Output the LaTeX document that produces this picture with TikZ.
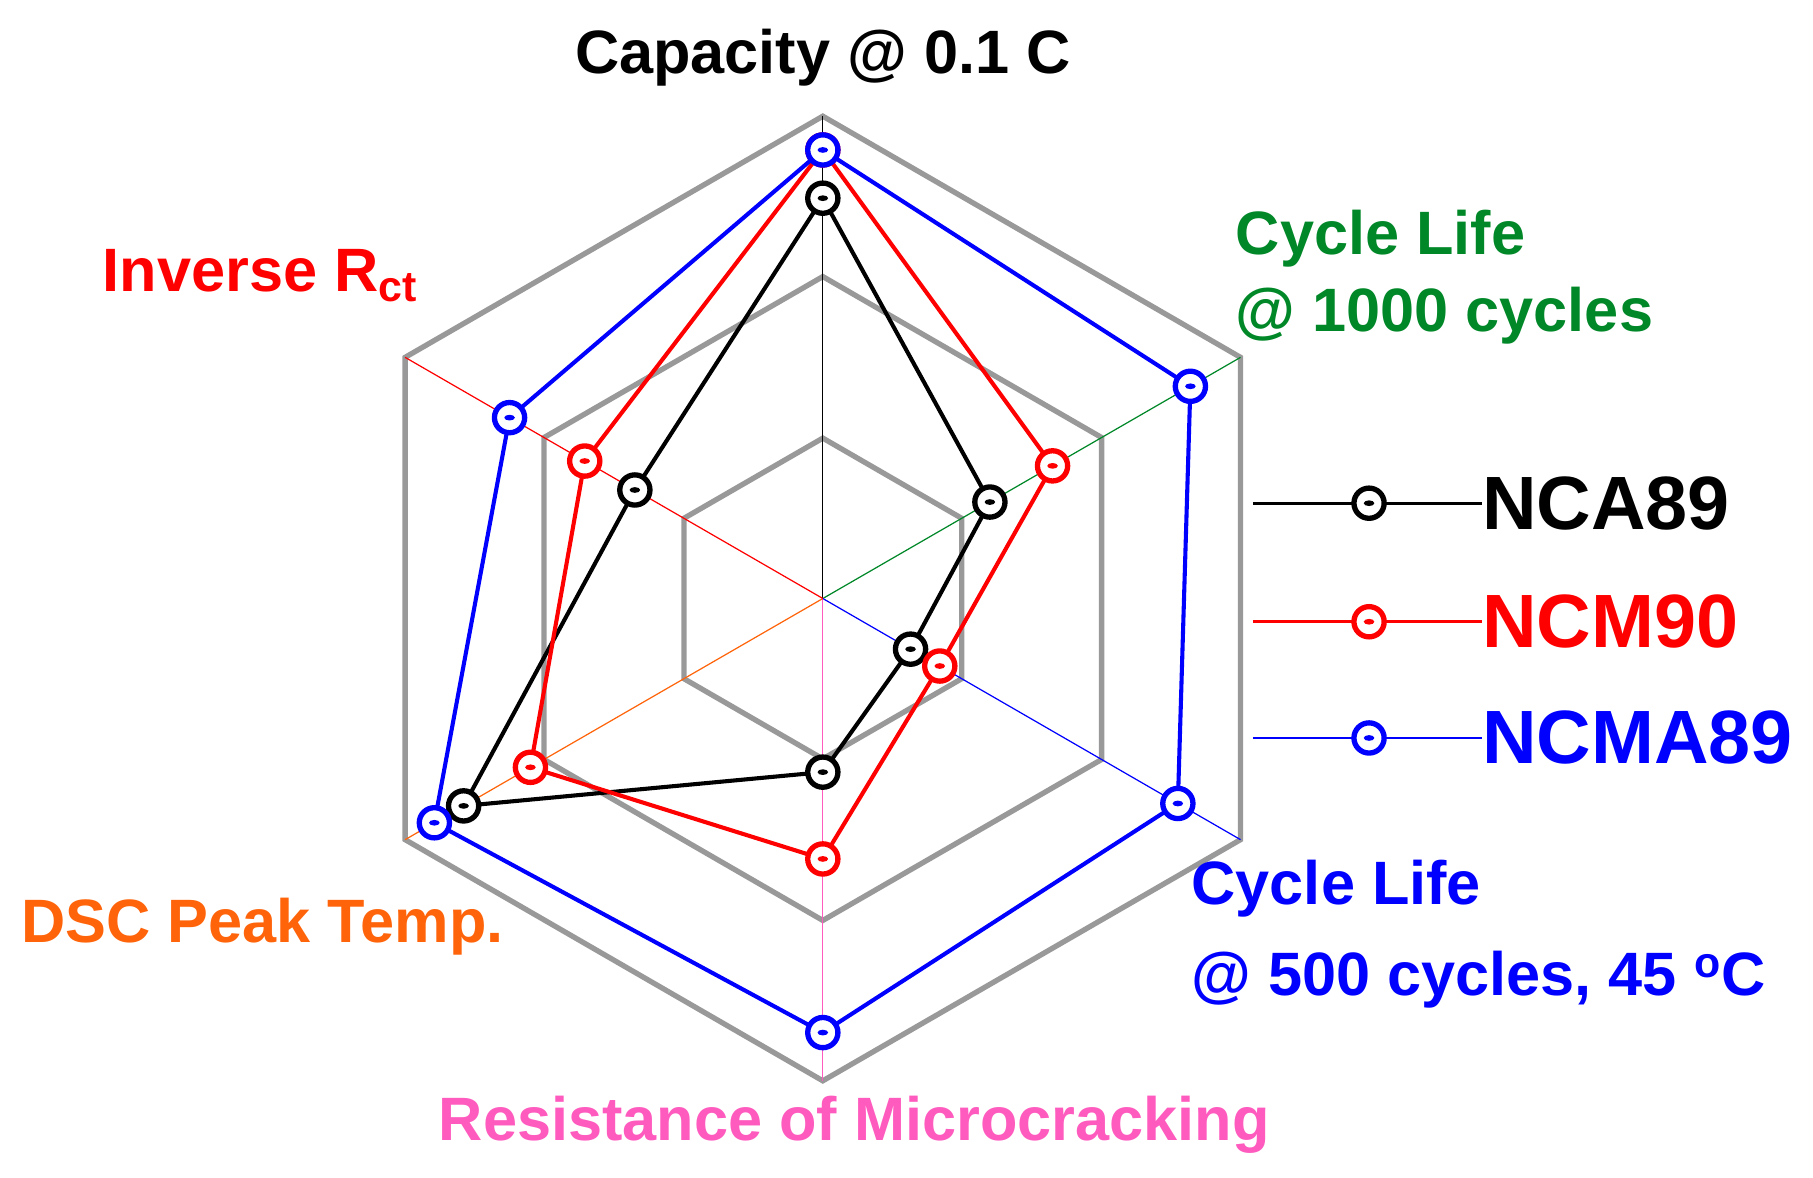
\documentclass[tikz,border=0pt]{standalone}
\usepackage{fontspec}
\setmainfont{Liberation Sans}
\usetikzlibrary{positioning}
\definecolor{dkgreen}{RGB}{0,135,40}
\definecolor{dscorange}{RGB}{255,100,10}
\definecolor{crackpink}{RGB}{255,90,190}
\tikzset{
  grid/.style={draw=gray!80,line width=2.6pt},
  series/.style={draw=#1,line width=2pt},
  mk/.style={circle,draw=#1,line width=2.6pt,fill=white,minimum size=0.52cm,inner sep=0pt,
    path picture={\fill[#1] (path picture bounding box.center) ellipse (2.6pt and 1.4pt);}},
  lbl/.style={font=\fontsize{30}{32}\selectfont\bfseries,inner sep=0pt},
  leg/.style={font=\fontsize{37}{39}\selectfont\bfseries,inner sep=0pt,anchor=west}
}
\begin{document}
\begin{tikzpicture}[x=0.02cm,y=0.02cm]
\useasboundingbox (0,0) rectangle (1560,1013);
\begin{scope}[shift={(708,498)}]
  % hexagon rings
  \foreach \r in {138,277,415}
    \draw[grid] (90:\r) -- (30:\r) -- (-30:\r) -- (-90:\r) -- (210:\r) -- (150:\r) -- cycle;
  % axes
  \coordinate (O) at (0,0);
  \foreach \ang/\col/\nm in {90/black/cap,30/dkgreen/cyc,-30/blue/hot,-90/crackpink/crk,210/dscorange/dsc,150/red/rct}{
    \coordinate (\nm) at (\ang:415);
    \draw[\col,line width=0.6pt] (O) -- (\nm);
  }
  % data
  \foreach \ser/\col/\a/\b/\c/\d/\e/\f in {nca/black/.83/.40/.21/.36/.86/.45,
      ncm/red/.93/.55/.28/.54/.70/.57, ncma/blue/.93/.88/.85/.90/.93/.75}{
    \draw[series=\col] (90:\a*415) coordinate (\ser1) -- (30:\b*415) coordinate (\ser2)
      -- (-30:\c*415) coordinate (\ser3) -- (-90:\d*415) coordinate (\ser4)
      -- (210:\e*415) coordinate (\ser5) -- (150:\f*415) coordinate (\ser6) -- cycle;
    \foreach \i in {1,...,6} \node[mk=\col] at (\ser\i) {};
  }
\end{scope}
% axis labels
\node[lbl] (capL) at (708,963) {Capacity @ 0.1 C};
\node[lbl,text=dkgreen,anchor=west] (cycL) at (1063,808) {Cycle Life};
\node[lbl,text=dkgreen,anchor=west] (cycL2) at (1063,741) {@ 1000 cycles};
\node[lbl,text=red,anchor=west] (rctL) at (88,776) {Inverse R\textsubscript{ct}};
\node[lbl,text=blue,anchor=west] (hotL) at (1025,248) {Cycle Life};
\node[lbl,text=blue,anchor=west] (hotL2) at (1025,170) {@ 500 cycles, 45 \textsuperscript{o}C};
\node[lbl,text=dscorange,anchor=west] (dscL) at (18,216) {DSC Peak Temp.};
\node[lbl,text=crackpink] (crkL) at (735,45) {Resistance of Microcracking};
% legend
\foreach \ser/\col/\y/\txt in {a/black/580/NCA89, b/red/478/NCM90, c/blue/378/NCMA89}{
  \coordinate (legS\ser) at (1078,\y);
  \node[leg,text=\col] (leg\ser) at (1275,\y) {\txt};
  \draw[\col,line width=1.4pt] (legS\ser) -- (leg\ser.west);
  \node[mk=\col] at (1178,\y) {};
}
\end{tikzpicture}
\end{document}
